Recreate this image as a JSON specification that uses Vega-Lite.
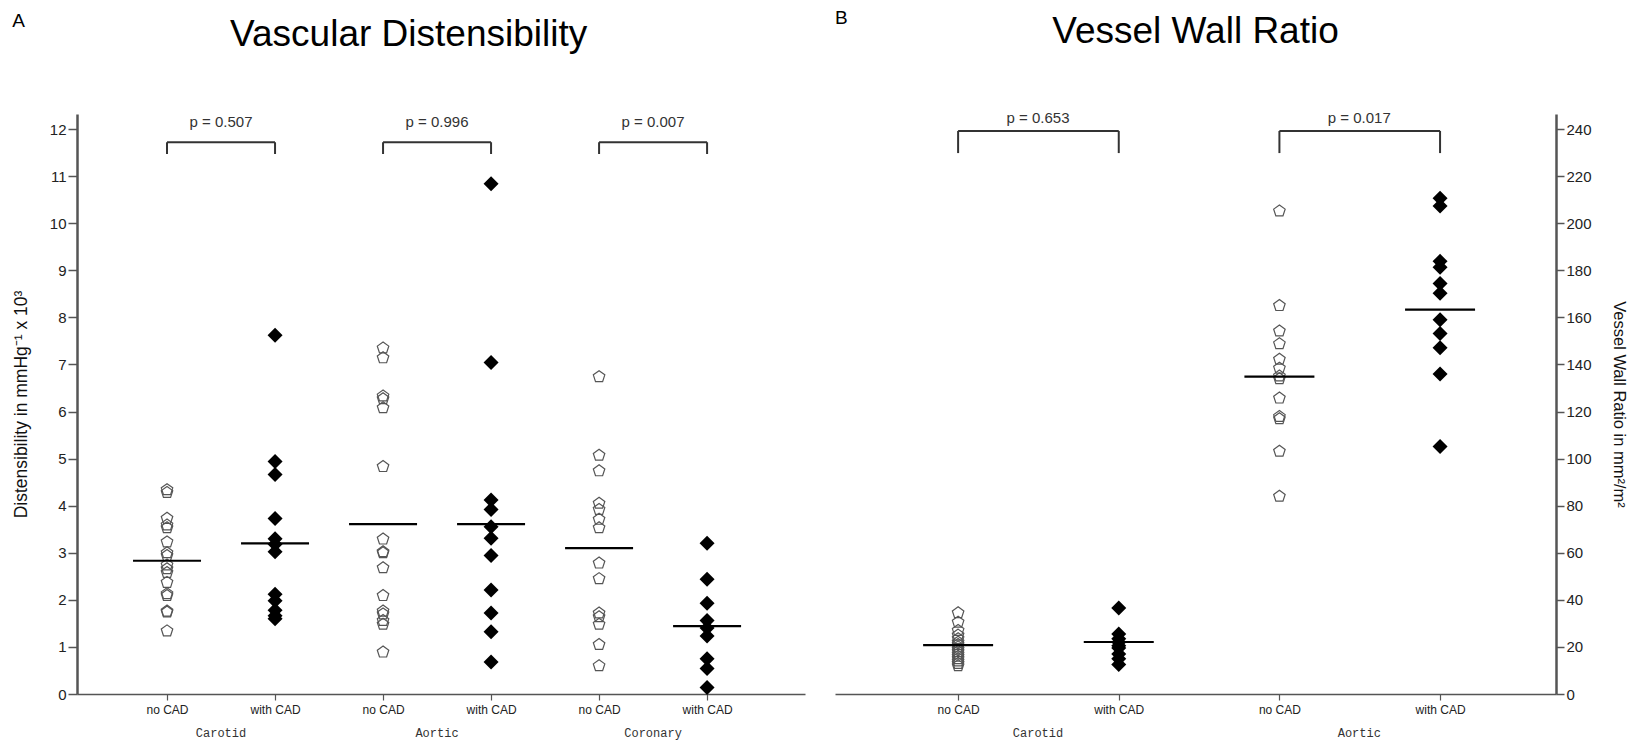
{
  "$schema": "https://vega.github.io/schema/vega-lite/v6.json",
  "background": "white",
  "padding": {"left": 12, "top": 9, "right": 6, "bottom": 12},
  "spacing": 30,
  "config": {
    "font": "Liberation Sans",
    "view": {"stroke": null},
    "axis": {"domainColor": "#555", "tickColor": "#555", "labelColor": "#222", "titleColor": "#111", "titleFontWeight": "normal", "grid": false, "labelFont": "Liberation Sans", "titleFont": "Liberation Sans"},
    "title": {"font": "Liberation Sans", "color": "#000", "fontWeight": "normal"}
  },
  "datasets": {
    "dist": [
      {"vessel": "Carotid", "cad": "no CAD", "cat": "Carotid|no CAD", "v": 4.34},
      {"vessel": "Carotid", "cad": "no CAD", "cat": "Carotid|no CAD", "v": 4.28},
      {"vessel": "Carotid", "cad": "no CAD", "cat": "Carotid|no CAD", "v": 3.73},
      {"vessel": "Carotid", "cad": "no CAD", "cat": "Carotid|no CAD", "v": 3.59},
      {"vessel": "Carotid", "cad": "no CAD", "cat": "Carotid|no CAD", "v": 3.53},
      {"vessel": "Carotid", "cad": "no CAD", "cat": "Carotid|no CAD", "v": 3.23},
      {"vessel": "Carotid", "cad": "no CAD", "cat": "Carotid|no CAD", "v": 3.0},
      {"vessel": "Carotid", "cad": "no CAD", "cat": "Carotid|no CAD", "v": 2.94},
      {"vessel": "Carotid", "cad": "no CAD", "cat": "Carotid|no CAD", "v": 2.74},
      {"vessel": "Carotid", "cad": "no CAD", "cat": "Carotid|no CAD", "v": 2.66},
      {"vessel": "Carotid", "cad": "no CAD", "cat": "Carotid|no CAD", "v": 2.58},
      {"vessel": "Carotid", "cad": "no CAD", "cat": "Carotid|no CAD", "v": 2.37},
      {"vessel": "Carotid", "cad": "no CAD", "cat": "Carotid|no CAD", "v": 2.13},
      {"vessel": "Carotid", "cad": "no CAD", "cat": "Carotid|no CAD", "v": 2.09},
      {"vessel": "Carotid", "cad": "no CAD", "cat": "Carotid|no CAD", "v": 1.76},
      {"vessel": "Carotid", "cad": "no CAD", "cat": "Carotid|no CAD", "v": 1.74},
      {"vessel": "Carotid", "cad": "no CAD", "cat": "Carotid|no CAD", "v": 1.34},
      {"vessel": "Carotid", "cad": "with CAD", "cat": "Carotid|with CAD", "v": 7.62},
      {"vessel": "Carotid", "cad": "with CAD", "cat": "Carotid|with CAD", "v": 4.94},
      {"vessel": "Carotid", "cad": "with CAD", "cat": "Carotid|with CAD", "v": 4.66},
      {"vessel": "Carotid", "cad": "with CAD", "cat": "Carotid|with CAD", "v": 3.73},
      {"vessel": "Carotid", "cad": "with CAD", "cat": "Carotid|with CAD", "v": 3.3},
      {"vessel": "Carotid", "cad": "with CAD", "cat": "Carotid|with CAD", "v": 3.18},
      {"vessel": "Carotid", "cad": "with CAD", "cat": "Carotid|with CAD", "v": 3.02},
      {"vessel": "Carotid", "cad": "with CAD", "cat": "Carotid|with CAD", "v": 2.12},
      {"vessel": "Carotid", "cad": "with CAD", "cat": "Carotid|with CAD", "v": 1.98},
      {"vessel": "Carotid", "cad": "with CAD", "cat": "Carotid|with CAD", "v": 1.78},
      {"vessel": "Carotid", "cad": "with CAD", "cat": "Carotid|with CAD", "v": 1.66},
      {"vessel": "Carotid", "cad": "with CAD", "cat": "Carotid|with CAD", "v": 1.6},
      {"vessel": "Aortic", "cad": "no CAD", "cat": "Aortic|no CAD", "v": 7.35},
      {"vessel": "Aortic", "cad": "no CAD", "cat": "Aortic|no CAD", "v": 7.14},
      {"vessel": "Aortic", "cad": "no CAD", "cat": "Aortic|no CAD", "v": 6.33},
      {"vessel": "Aortic", "cad": "no CAD", "cat": "Aortic|no CAD", "v": 6.27},
      {"vessel": "Aortic", "cad": "no CAD", "cat": "Aortic|no CAD", "v": 6.08},
      {"vessel": "Aortic", "cad": "no CAD", "cat": "Aortic|no CAD", "v": 4.83},
      {"vessel": "Aortic", "cad": "no CAD", "cat": "Aortic|no CAD", "v": 3.29},
      {"vessel": "Aortic", "cad": "no CAD", "cat": "Aortic|no CAD", "v": 3.02},
      {"vessel": "Aortic", "cad": "no CAD", "cat": "Aortic|no CAD", "v": 3.0},
      {"vessel": "Aortic", "cad": "no CAD", "cat": "Aortic|no CAD", "v": 2.68},
      {"vessel": "Aortic", "cad": "no CAD", "cat": "Aortic|no CAD", "v": 2.09},
      {"vessel": "Aortic", "cad": "no CAD", "cat": "Aortic|no CAD", "v": 1.76},
      {"vessel": "Aortic", "cad": "no CAD", "cat": "Aortic|no CAD", "v": 1.7},
      {"vessel": "Aortic", "cad": "no CAD", "cat": "Aortic|no CAD", "v": 1.56},
      {"vessel": "Aortic", "cad": "no CAD", "cat": "Aortic|no CAD", "v": 1.48},
      {"vessel": "Aortic", "cad": "no CAD", "cat": "Aortic|no CAD", "v": 0.89},
      {"vessel": "Aortic", "cad": "with CAD", "cat": "Aortic|with CAD", "v": 10.84},
      {"vessel": "Aortic", "cad": "with CAD", "cat": "Aortic|with CAD", "v": 7.04},
      {"vessel": "Aortic", "cad": "with CAD", "cat": "Aortic|with CAD", "v": 4.12},
      {"vessel": "Aortic", "cad": "with CAD", "cat": "Aortic|with CAD", "v": 3.92},
      {"vessel": "Aortic", "cad": "with CAD", "cat": "Aortic|with CAD", "v": 3.55},
      {"vessel": "Aortic", "cad": "with CAD", "cat": "Aortic|with CAD", "v": 3.31},
      {"vessel": "Aortic", "cad": "with CAD", "cat": "Aortic|with CAD", "v": 2.94},
      {"vessel": "Aortic", "cad": "with CAD", "cat": "Aortic|with CAD", "v": 2.21},
      {"vessel": "Aortic", "cad": "with CAD", "cat": "Aortic|with CAD", "v": 1.72},
      {"vessel": "Aortic", "cad": "with CAD", "cat": "Aortic|with CAD", "v": 1.32},
      {"vessel": "Aortic", "cad": "with CAD", "cat": "Aortic|with CAD", "v": 0.68},
      {"vessel": "Coronary", "cad": "no CAD", "cat": "Coronary|no CAD", "v": 6.74},
      {"vessel": "Coronary", "cad": "no CAD", "cat": "Coronary|no CAD", "v": 5.07},
      {"vessel": "Coronary", "cad": "no CAD", "cat": "Coronary|no CAD", "v": 4.74},
      {"vessel": "Coronary", "cad": "no CAD", "cat": "Coronary|no CAD", "v": 4.05},
      {"vessel": "Coronary", "cad": "no CAD", "cat": "Coronary|no CAD", "v": 3.92},
      {"vessel": "Coronary", "cad": "no CAD", "cat": "Coronary|no CAD", "v": 3.71},
      {"vessel": "Coronary", "cad": "no CAD", "cat": "Coronary|no CAD", "v": 3.53},
      {"vessel": "Coronary", "cad": "no CAD", "cat": "Coronary|no CAD", "v": 2.78},
      {"vessel": "Coronary", "cad": "no CAD", "cat": "Coronary|no CAD", "v": 2.45},
      {"vessel": "Coronary", "cad": "no CAD", "cat": "Coronary|no CAD", "v": 1.72},
      {"vessel": "Coronary", "cad": "no CAD", "cat": "Coronary|no CAD", "v": 1.64},
      {"vessel": "Coronary", "cad": "no CAD", "cat": "Coronary|no CAD", "v": 1.48},
      {"vessel": "Coronary", "cad": "no CAD", "cat": "Coronary|no CAD", "v": 1.05},
      {"vessel": "Coronary", "cad": "no CAD", "cat": "Coronary|no CAD", "v": 0.6},
      {"vessel": "Coronary", "cad": "with CAD", "cat": "Coronary|with CAD", "v": 3.2},
      {"vessel": "Coronary", "cad": "with CAD", "cat": "Coronary|with CAD", "v": 2.44},
      {"vessel": "Coronary", "cad": "with CAD", "cat": "Coronary|with CAD", "v": 1.93},
      {"vessel": "Coronary", "cad": "with CAD", "cat": "Coronary|with CAD", "v": 1.56},
      {"vessel": "Coronary", "cad": "with CAD", "cat": "Coronary|with CAD", "v": 1.4},
      {"vessel": "Coronary", "cad": "with CAD", "cat": "Coronary|with CAD", "v": 1.23},
      {"vessel": "Coronary", "cad": "with CAD", "cat": "Coronary|with CAD", "v": 0.75},
      {"vessel": "Coronary", "cad": "with CAD", "cat": "Coronary|with CAD", "v": 0.54},
      {"vessel": "Coronary", "cad": "with CAD", "cat": "Coronary|with CAD", "v": 0.14}
    ],
    "distMean": [
      {"cat": "Carotid|no CAD", "v": 2.83},
      {"cat": "Carotid|with CAD", "v": 3.2},
      {"cat": "Aortic|no CAD", "v": 3.61},
      {"cat": "Aortic|with CAD", "v": 3.61},
      {"cat": "Coronary|no CAD", "v": 3.1},
      {"cat": "Coronary|with CAD", "v": 1.44}
    ],
    "distBr": [
      {"vessel": "Carotid", "a": "Carotid|no CAD", "b": "Carotid|with CAD", "p": "p = 0.507"},
      {"vessel": "Aortic", "a": "Aortic|no CAD", "b": "Aortic|with CAD", "p": "p = 0.996"},
      {"vessel": "Coronary", "a": "Coronary|no CAD", "b": "Coronary|with CAD", "p": "p = 0.007"}
    ],
    "vwr": [
      {"vessel": "Carotid", "cad": "no CAD", "cat": "Carotid|no CAD", "v": 34.5},
      {"vessel": "Carotid", "cad": "no CAD", "cat": "Carotid|no CAD", "v": 30.5},
      {"vessel": "Carotid", "cad": "no CAD", "cat": "Carotid|no CAD", "v": 27.0},
      {"vessel": "Carotid", "cad": "no CAD", "cat": "Carotid|no CAD", "v": 25.0},
      {"vessel": "Carotid", "cad": "no CAD", "cat": "Carotid|no CAD", "v": 23.5},
      {"vessel": "Carotid", "cad": "no CAD", "cat": "Carotid|no CAD", "v": 22.0},
      {"vessel": "Carotid", "cad": "no CAD", "cat": "Carotid|no CAD", "v": 21.0},
      {"vessel": "Carotid", "cad": "no CAD", "cat": "Carotid|no CAD", "v": 20.0},
      {"vessel": "Carotid", "cad": "no CAD", "cat": "Carotid|no CAD", "v": 19.0},
      {"vessel": "Carotid", "cad": "no CAD", "cat": "Carotid|no CAD", "v": 18.0},
      {"vessel": "Carotid", "cad": "no CAD", "cat": "Carotid|no CAD", "v": 17.0},
      {"vessel": "Carotid", "cad": "no CAD", "cat": "Carotid|no CAD", "v": 16.0},
      {"vessel": "Carotid", "cad": "no CAD", "cat": "Carotid|no CAD", "v": 15.0},
      {"vessel": "Carotid", "cad": "no CAD", "cat": "Carotid|no CAD", "v": 14.0},
      {"vessel": "Carotid", "cad": "no CAD", "cat": "Carotid|no CAD", "v": 13.0},
      {"vessel": "Carotid", "cad": "no CAD", "cat": "Carotid|no CAD", "v": 12.0},
      {"vessel": "Carotid", "cad": "with CAD", "cat": "Carotid|with CAD", "v": 36.5},
      {"vessel": "Carotid", "cad": "with CAD", "cat": "Carotid|with CAD", "v": 25.5},
      {"vessel": "Carotid", "cad": "with CAD", "cat": "Carotid|with CAD", "v": 23.5},
      {"vessel": "Carotid", "cad": "with CAD", "cat": "Carotid|with CAD", "v": 22.0},
      {"vessel": "Carotid", "cad": "with CAD", "cat": "Carotid|with CAD", "v": 20.5},
      {"vessel": "Carotid", "cad": "with CAD", "cat": "Carotid|with CAD", "v": 19.5},
      {"vessel": "Carotid", "cad": "with CAD", "cat": "Carotid|with CAD", "v": 17.0},
      {"vessel": "Carotid", "cad": "with CAD", "cat": "Carotid|with CAD", "v": 15.0},
      {"vessel": "Carotid", "cad": "with CAD", "cat": "Carotid|with CAD", "v": 12.5},
      {"vessel": "Aortic", "cad": "no CAD", "cat": "Aortic|no CAD", "v": 205.2},
      {"vessel": "Aortic", "cad": "no CAD", "cat": "Aortic|no CAD", "v": 165.0},
      {"vessel": "Aortic", "cad": "no CAD", "cat": "Aortic|no CAD", "v": 154.2},
      {"vessel": "Aortic", "cad": "no CAD", "cat": "Aortic|no CAD", "v": 148.8},
      {"vessel": "Aortic", "cad": "no CAD", "cat": "Aortic|no CAD", "v": 142.2},
      {"vessel": "Aortic", "cad": "no CAD", "cat": "Aortic|no CAD", "v": 138.4},
      {"vessel": "Aortic", "cad": "no CAD", "cat": "Aortic|no CAD", "v": 135.1},
      {"vessel": "Aortic", "cad": "no CAD", "cat": "Aortic|no CAD", "v": 133.9},
      {"vessel": "Aortic", "cad": "no CAD", "cat": "Aortic|no CAD", "v": 125.7},
      {"vessel": "Aortic", "cad": "no CAD", "cat": "Aortic|no CAD", "v": 117.9},
      {"vessel": "Aortic", "cad": "no CAD", "cat": "Aortic|no CAD", "v": 116.9},
      {"vessel": "Aortic", "cad": "no CAD", "cat": "Aortic|no CAD", "v": 103.1},
      {"vessel": "Aortic", "cad": "no CAD", "cat": "Aortic|no CAD", "v": 84.0},
      {"vessel": "Aortic", "cad": "with CAD", "cat": "Aortic|with CAD", "v": 210.6},
      {"vessel": "Aortic", "cad": "with CAD", "cat": "Aortic|with CAD", "v": 207.3},
      {"vessel": "Aortic", "cad": "with CAD", "cat": "Aortic|with CAD", "v": 183.8},
      {"vessel": "Aortic", "cad": "with CAD", "cat": "Aortic|with CAD", "v": 181.3},
      {"vessel": "Aortic", "cad": "with CAD", "cat": "Aortic|with CAD", "v": 174.4},
      {"vessel": "Aortic", "cad": "with CAD", "cat": "Aortic|with CAD", "v": 170.2},
      {"vessel": "Aortic", "cad": "with CAD", "cat": "Aortic|with CAD", "v": 159.0},
      {"vessel": "Aortic", "cad": "with CAD", "cat": "Aortic|with CAD", "v": 153.2},
      {"vessel": "Aortic", "cad": "with CAD", "cat": "Aortic|with CAD", "v": 147.1},
      {"vessel": "Aortic", "cad": "with CAD", "cat": "Aortic|with CAD", "v": 135.9},
      {"vessel": "Aortic", "cad": "with CAD", "cat": "Aortic|with CAD", "v": 105.1}
    ],
    "vwrMean": [
      {"cat": "Carotid|no CAD", "v": 20.8},
      {"cat": "Carotid|with CAD", "v": 22.1},
      {"cat": "Aortic|no CAD", "v": 134.8},
      {"cat": "Aortic|with CAD", "v": 163.3}
    ],
    "vwrBr": [
      {"vessel": "Carotid", "a": "Carotid|no CAD", "b": "Carotid|with CAD", "p": "p = 0.653"},
      {"vessel": "Aortic", "a": "Aortic|no CAD", "b": "Aortic|with CAD", "p": "p = 0.017"}
    ]
  },
  "hconcat": [
    {
      "title": {"text": "A", "anchor": "start", "frame": "bounds", "fontSize": 19, "offset": 0, "dy": 15},
      "hconcat": [
        {
          "width": 728,
          "height": 580,
          "title": {"text": "Vascular Distensibility", "anchor": "middle", "frame": "bounds", "fontSize": 37, "offset": 60},
          "layer": [
            {
              "layer": [
                {
                  "data": {"name": "dist"},
                  "transform": [{"filter": "datum.cad == 'no CAD'"}],
                  "mark": {"type": "point", "shape": "M0,-1L0.951,-0.309L0.588,0.809L-0.588,0.809L-0.951,-0.309Z", "filled": false, "stroke": "#555", "strokeWidth": 1.2, "size": 146, "opacity": 1},
                  "encoding": {
                    "x": {"field": "cat", "type": "nominal", "scale": {"type": "point", "domain": ["Carotid|no CAD", "Carotid|with CAD", "Aortic|no CAD", "Aortic|with CAD", "Coronary|no CAD", "Coronary|with CAD"], "padding": 0.87, "align": 0.479},
                      "axis": {"title": null, "labelExpr": "split(datum.label, '|')[1]", "labelAngle": 0, "tickSize": 6, "tickWidth": 1.2, "labelPadding": 4, "labelFontSize": 12, "domainWidth": 1.5}},
                    "y": {"field": "v", "type": "quantitative", "scale": {"domain": [0, 12.32], "nice": false, "zero": true},
                      "axis": {"title": "Distensibility in mmHg⁻¹ x 10³", "values": [0, 1, 2, 3, 4, 5, 6, 7, 8, 9, 10, 11, 12], "tickSize": 9, "tickWidth": 1.5, "labelPadding": 2, "labelFontSize": 15, "domainWidth": 2.5, "titleFontSize": 17.5, "titlePadding": 19}}
                  }
                },
                {
                  "data": {"name": "dist"},
                  "transform": [{"filter": "datum.cad == 'with CAD'"}],
                  "mark": {"type": "point", "shape": "diamond", "filled": true, "color": "#000", "size": 225, "opacity": 1},
                  "encoding": {
                    "x": {"field": "cat", "type": "nominal"},
                    "y": {"field": "v", "type": "quantitative"}
                  }
                },
                {
                  "data": {"name": "distMean"},
                  "mark": {"type": "tick", "color": "#000", "thickness": 2.2, "size": 68, "orient": "horizontal", "opacity": 1},
                  "encoding": {
                    "x": {"field": "cat", "type": "nominal"},
                    "y": {"field": "v", "type": "quantitative"}
                  }
                },
                {
                  "data": {"name": "distBr"},
                  "mark": {"type": "rule", "color": "#333", "strokeWidth": 2},
                  "encoding": {
                    "x": {"field": "a", "type": "nominal"},
                    "x2": {"field": "b"},
                    "y": {"datum": 11.72}
                  }
                },
                {
                  "data": {"name": "distBr"},
                  "mark": {"type": "rule", "color": "#333", "strokeWidth": 2},
                  "encoding": {
                    "x": {"field": "a", "type": "nominal"},
                    "y": {"datum": 11.72},
                    "y2": {"datum": 11.47}
                  }
                },
                {
                  "data": {"name": "distBr"},
                  "mark": {"type": "rule", "color": "#333", "strokeWidth": 2},
                  "encoding": {
                    "x": {"field": "b", "type": "nominal"},
                    "y": {"datum": 11.72},
                    "y2": {"datum": 11.47}
                  }
                }
              ]
            },
            {
              "data": {"name": "distBr"},
              "mark": {"type": "text", "fontSize": 15, "color": "#333"},
              "encoding": {
                "x": {"field": "vessel", "type": "nominal", "scale": {"type": "band", "domain": ["Carotid", "Aortic", "Coronary"], "paddingInner": 0, "paddingOuter": 0.185, "align": 0.45},
                  "axis": {"orient": "bottom", "title": null, "domain": false, "ticks": false, "labelFont": "Liberation Mono", "labelFontSize": 12, "labelPadding": 33, "labelAngle": 0, "labelColor": "#333"}},
                "y": {"datum": 12.15},
                "text": {"field": "p"}
              }
            }
          ],
          "resolve": {"scale": {"x": "independent"}}
        }
      ]
    },
    {
      "title": {"text": "B", "anchor": "start", "frame": "group", "fontSize": 19, "offset": 0, "dy": 15},
      "hconcat": [
        {
          "width": 721,
          "height": 580,
          "title": {"text": "Vessel Wall Ratio", "anchor": "middle", "frame": "group", "fontSize": 37, "offset": 60},
          "layer": [
            {
              "layer": [
                {
                  "data": {"name": "vwr"},
                  "transform": [{"filter": "datum.cad == 'no CAD'"}],
                  "mark": {"type": "point", "shape": "M0,-1L0.951,-0.309L0.588,0.809L-0.588,0.809L-0.951,-0.309Z", "filled": false, "stroke": "#555", "strokeWidth": 1.2, "size": 146, "opacity": 1},
                  "encoding": {
                    "x": {"field": "cat", "type": "nominal", "scale": {"type": "point", "domain": ["Carotid|no CAD", "Carotid|with CAD", "Aortic|no CAD", "Aortic|with CAD"], "padding": 0.744, "align": 0.515},
                      "axis": {"title": null, "labelExpr": "split(datum.label, '|')[1]", "labelAngle": 0, "tickSize": 6, "tickWidth": 1.2, "labelPadding": 4, "labelFontSize": 12, "domainWidth": 1.5}},
                    "y": {"field": "v", "type": "quantitative", "scale": {"domain": [0, 246.4], "nice": false, "zero": true},
                      "axis": {"orient": "right", "title": "Vessel Wall Ratio in mm²/m²", "values": [0, 20, 40, 60, 80, 100, 120, 140, 160, 180, 200, 220, 240], "tickSize": 8, "tickWidth": 1.5, "labelPadding": 2, "labelFontSize": 15, "domainWidth": 2.5, "titleFontSize": 16.5, "titlePadding": 19}}
                  }
                },
                {
                  "data": {"name": "vwr"},
                  "transform": [{"filter": "datum.cad == 'with CAD'"}],
                  "mark": {"type": "point", "shape": "diamond", "filled": true, "color": "#000", "size": 225, "opacity": 1},
                  "encoding": {
                    "x": {"field": "cat", "type": "nominal"},
                    "y": {"field": "v", "type": "quantitative"}
                  }
                },
                {
                  "data": {"name": "vwrMean"},
                  "mark": {"type": "tick", "color": "#000", "thickness": 2.2, "size": 70, "orient": "horizontal", "opacity": 1},
                  "encoding": {
                    "x": {"field": "cat", "type": "nominal"},
                    "y": {"field": "v", "type": "quantitative"}
                  }
                },
                {
                  "data": {"name": "vwrBr"},
                  "mark": {"type": "rule", "color": "#333", "strokeWidth": 2},
                  "encoding": {
                    "x": {"field": "a", "type": "nominal"},
                    "x2": {"field": "b"},
                    "y": {"datum": 239.2}
                  }
                },
                {
                  "data": {"name": "vwrBr"},
                  "mark": {"type": "rule", "color": "#333", "strokeWidth": 2},
                  "encoding": {
                    "x": {"field": "a", "type": "nominal"},
                    "y": {"datum": 239.2},
                    "y2": {"datum": 229.8}
                  }
                },
                {
                  "data": {"name": "vwrBr"},
                  "mark": {"type": "rule", "color": "#333", "strokeWidth": 2},
                  "encoding": {
                    "x": {"field": "b", "type": "nominal"},
                    "y": {"datum": 239.2},
                    "y2": {"datum": 229.8}
                  }
                }
              ]
            },
            {
              "data": {"name": "vwrBr"},
              "mark": {"type": "text", "fontSize": 15, "color": "#333"},
              "encoding": {
                "x": {"field": "vessel", "type": "nominal", "scale": {"type": "band", "domain": ["Carotid", "Aortic"], "paddingInner": 0, "paddingOuter": 0.122, "align": 0.54},
                  "axis": {"orient": "bottom", "title": null, "domain": false, "ticks": false, "labelFont": "Liberation Mono", "labelFontSize": 12, "labelPadding": 33, "labelAngle": 0, "labelColor": "#333"}},
                "y": {"datum": 244.7},
                "text": {"field": "p"}
              }
            }
          ],
          "resolve": {"scale": {"x": "independent"}}
        }
      ]
    }
  ]
}
